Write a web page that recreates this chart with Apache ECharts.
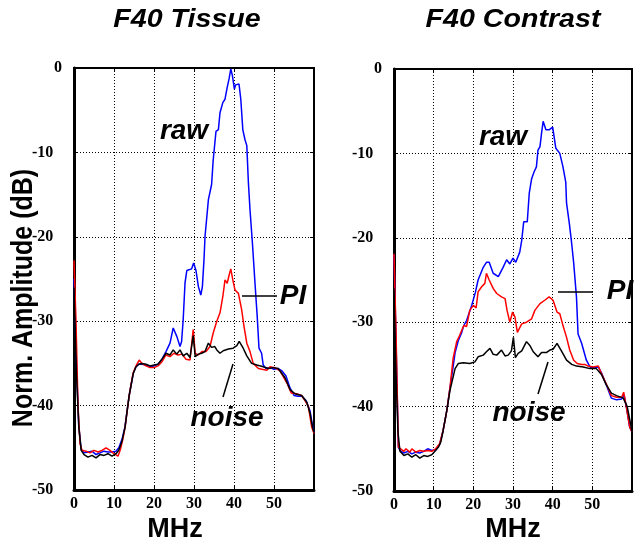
<!DOCTYPE html>
<html>
<head>
<meta charset="utf-8">
<script src="https://cdn.jsdelivr.net/npm/echarts@6/dist/echarts.min.js"></script>
<style>html,body{margin:0;padding:0;background:#fff}#c{width:634px;height:544px}</style>
</head>
<body>
<div id="c"></div>
<script>
// ---- data (MHz, dB) ----
const xTicks = [0, 10, 20, 30, 40, 50];
const yTicks = [0, -10, -20, -30, -40, -50];
const titles = ['F40 Tissue', 'F40 Contrast'];

const tissueRaw = [[0,-25],[0.6,-35],[1.2,-42.5],[1.8,-45.2],[2.5,-45.6],[3.5,-45.5],[4.5,-45.4],[5.5,-45.8],[6.5,-45.6],[7.5,-45.4],[8.5,-45.5],[9.5,-45.5],[10.5,-45.4],[11.2,-45.0],[12,-44.0],[12.75,-42.5],[13.3,-40.5],[13.8,-38.8],[14.3,-37.5],[14.8,-36.2],[15.5,-35.4],[16.2,-35.1],[17,-35.1],[18,-35.2],[19,-35.4],[20,-35.3],[21,-35.1],[22,-34.5],[23,-33.6],[24,-32.6],[24.8,-30.8],[25.3,-30.6],[25.7,-31.8],[26.5,-33.0],[26.9,-32.4],[27.3,-29.8],[27.75,-25.5],[28.2,-24.0],[29.4,-23.8],[29.9,-23.1],[30.5,-24.0],[31.1,-25.9],[31.7,-26.9],[32.1,-25.9],[32.5,-22.7],[32.75,-20.0],[33.6,-15.6],[34.4,-13.8],[34.8,-10.9],[35.5,-7.5],[36.1,-7.3],[36.5,-5.3],[37.2,-4.1],[37.75,-3.7],[38.3,-2.3],[38.8,-1.2],[39.2,-0.1],[39.6,-0.9],[40.1,-2.5],[40.4,-2.0],[40.8,-1.8],[41.25,-1.9],[41.7,-3.7],[42.2,-7.3],[42.75,-8.5],[43.2,-9.2],[43.6,-13.6],[44,-16.8],[44.6,-20.7],[45.25,-25.5],[45.8,-29.4],[46.25,-33.2],[46.9,-33.8],[47.3,-35.2],[48,-35.6],[49,-35.5],[50,-35.7],[51,-35.6],[52,-35.9],[53,-36.5],[54,-37.9],[55,-38.8],[56,-38.9],[57,-38.9],[58,-39.4],[59,-40.6],[59.6,-42.3],[60,-43.2]];

const tissuePI = [[0,-22.8],[0.5,-30],[1,-40],[1.5,-44.5],[2,-45.3],[3,-45.4],[4,-45.6],[5,-45.3],[6,-45.5],[7,-45.3],[8,-45.0],[9,-45.3],[10,-45.7],[11,-46.0],[11.6,-45.2],[12.2,-44],[12.75,-42.6],[13.3,-40.6],[13.8,-38.8],[14.3,-37.4],[14.8,-36.1],[15.5,-35.3],[16.3,-34.6],[17,-35.0],[18,-35.3],[19,-35.5],[20,-35.5],[21,-35.3],[22,-34.8],[23,-34.0],[24,-34.2],[25,-33.8],[26,-34.0],[27,-33.9],[28,-34.5],[29,-34.6],[29.8,-31.0],[30.3,-33.8],[31,-34.0],[32,-33.6],[33,-33.6],[34,-33.0],[34.8,-31.4],[35.7,-30.0],[36.5,-29.0],[37.2,-27.1],[37.75,-25.1],[38.3,-25.5],[38.8,-24.5],[39.2,-23.8],[39.7,-25.1],[40.25,-26.3],[41.1,-26.7],[41.9,-28.6],[42.5,-30.6],[43.2,-32.6],[44,-33.6],[44.8,-35.0],[46.1,-35.6],[47,-35.7],[48.2,-35.8],[49,-35.4],[50.25,-35.5],[51.5,-35.9],[53.2,-37.3],[54.3,-38.5],[55.6,-38.6],[56.9,-38.8],[57.75,-39.4],[58.6,-40.1],[59.4,-42.5],[60,-43.3]];

const tissueNoise = [[0,-26],[0.6,-36],[1.2,-42.5],[1.8,-45.3],[2.5,-45.8],[3.5,-46.1],[4.5,-45.9],[5.5,-46.2],[6.5,-45.8],[7.5,-45.9],[8.5,-45.7],[9.5,-46.0],[10.5,-45.7],[11.2,-45.3],[12,-44.2],[12.75,-42.6],[13.3,-40.6],[13.8,-38.8],[14.3,-37.5],[14.8,-36.2],[15.5,-35.4],[16.2,-35.1],[17,-35.0],[18,-35.1],[19,-35.3],[20,-35.2],[21,-35.1],[22,-34.5],[23,-33.8],[24,-34.0],[24.8,-33.4],[25.7,-33.9],[26.5,-33.4],[27.3,-34.1],[28.2,-33.8],[29,-34.3],[29.8,-31.7],[30.3,-34.2],[31.1,-33.9],[31.9,-33.8],[32.75,-33.6],[33.6,-32.6],[34.4,-33.1],[35.2,-33.0],[35.7,-33.4],[36.5,-33.8],[37.3,-33.5],[38.6,-33.3],[39.8,-33.2],[40.7,-32.9],[41.3,-32.4],[42.3,-33.2],[43.2,-34.1],[44.4,-35.0],[45.7,-35.2],[47.3,-35.4],[48.6,-35.6],[49.8,-35.5],[51,-35.6],[51.5,-35.9],[52.75,-36.7],[54,-38.1],[55.25,-38.6],[56.9,-38.8],[58.2,-39.6],[59,-40.9],[59.6,-42.5],[60,-43.2]];

const contrastRaw = [[0,-22],[0.5,-32],[1.1,-44.8],[1.5,-45.2],[2.5,-45.5],[3.5,-45.3],[4.5,-45.6],[5.5,-45.4],[6.5,-45.5],[7.5,-45.3],[8.5,-45.0],[9.5,-45.2],[10.5,-45.1],[11.5,-44.5],[12.4,-42.8],[13.3,-40.5],[14.1,-37.8],[14.9,-35.3],[15.4,-33.6],[16.2,-32.2],[17,-31.3],[17.6,-30.4],[18.3,-29.8],[19.6,-28.0],[20.5,-26.5],[21.2,-25.0],[22.5,-23.5],[23.3,-22.9],[24,-22.9],[25,-24.2],[26.3,-24.6],[27.5,-23.5],[28.4,-22.6],[29.2,-23.1],[30,-22.4],[30.7,-22.9],[31.7,-21.7],[32.2,-20.3],[32.7,-18.1],[33.6,-18.1],[34.1,-14.7],[34.7,-13.0],[35.3,-12.2],[35.9,-11.6],[36.3,-9.6],[36.8,-9.2],[37.2,-7.6],[37.6,-6.2],[38.3,-7.2],[39.1,-7.2],[40,-6.9],[40.4,-6.8],[40.8,-9.4],[41.8,-10.0],[42.6,-11.6],[43.3,-13.4],[43.5,-15.9],[44.2,-18.3],[44.8,-20.7],[45.3,-23.0],[46,-27.0],[46.4,-31.4],[47.3,-32.5],[48.5,-34.5],[49.4,-35.3],[50.2,-35.4],[51.5,-35.3],[52.3,-36.0],[53.5,-37.4],[54.8,-39.0],[56.1,-39.2],[57.4,-39.1],[58,-38.6],[58.6,-40.1],[59.4,-42.4],[60,-43]];

const contrastPI = [[0,-21.9],[0.5,-31],[1.1,-44.8],[1.5,-45.0],[2.5,-45.3],[3,-45.0],[4,-45.4],[4.5,-45.0],[5.5,-45.4],[6.5,-45.2],[7.5,-45.3],[8.5,-45.2],[9.5,-45.3],[10.5,-45.0],[11.5,-44.4],[12.4,-42.8],[13.3,-40.5],[14.1,-37.8],[14.9,-34.3],[15.8,-32.3],[16.5,-31.6],[17,-31.4],[17.6,-30.4],[18.3,-30.5],[19.1,-28.6],[20,-28.0],[20.7,-28.3],[21.2,-26.4],[22.1,-25.8],[22.9,-25.4],[23.3,-24.2],[24,-25.0],[25,-26.0],[25.9,-26.6],[27.1,-27.0],[28,-27.2],[28.5,-28.6],[29.2,-30.0],[29.9,-28.8],[30.5,-29.4],[31.1,-31.2],[32.2,-30.2],[33.4,-30.0],[34.7,-29.6],[35.5,-28.6],[36.8,-27.8],[38,-27.4],[39.1,-27.0],[40.1,-27.4],[41.1,-28.8],[41.8,-29.0],[42.6,-30.4],[43.5,-31.8],[44.3,-33.3],[45.3,-34.5],[46.2,-34.9],[47.3,-35.0],[48.1,-35.0],[48.9,-35.2],[50.2,-35.3],[51.5,-35.2],[52.3,-36.1],[53.5,-37.3],[54.8,-38.7],[56.1,-38.9],[57.4,-38.9],[57.9,-38.3],[58.6,-40.1],[59.4,-42.4],[60,-43]];

const contrastNoise = [[0,-26],[0.5,-36],[1,-43],[1.5,-45.3],[2.5,-45.8],[3.5,-45.6],[4.5,-46.0],[5.5,-45.7],[6.5,-46.1],[7.5,-45.8],[8.5,-45.9],[9.5,-45.7],[10.5,-45.2],[11.2,-44.8],[11.8,-44.2],[12.4,-42.8],[13.3,-40.5],[14.1,-38.1],[14.9,-36.5],[15.4,-35.5],[16.2,-34.9],[17.5,-34.8],[19.1,-34.9],[20.4,-34.7],[21.2,-34.1],[22.5,-33.9],[23.3,-33.5],[24.2,-33.1],[25,-33.8],[25.9,-33.9],[27.1,-33.3],[28,-34.0],[28.8,-33.9],[29.6,-33.4],[30.1,-31.8],[30.6,-34.2],[31.3,-33.7],[32.2,-33.4],[33.4,-32.3],[34.3,-32.8],[35.1,-33.5],[36.3,-34.1],[37.2,-33.6],[38.4,-33.6],[39.3,-33.3],[40.1,-33.2],[41.1,-32.5],[42.2,-33.4],[43.5,-34.5],[44.8,-35.0],[46,-35.2],[47.7,-35.3],[49.4,-35.5],[51,-35.5],[52.3,-36.2],[53.5,-37.4],[54.8,-38.4],[56.1,-38.7],[57.8,-39.0],[58.8,-40.0],[59.7,-42.2],[60,-43]];

// ---- chart ----
const SERIF = '"Liberation Serif", "Times New Roman", serif';
const SANS = '"Liberation Sans", Arial, sans-serif';
const grids = [
  {left: 74, top: 68, width: 240, height: 422},
  {left: 394, top: 69, width: 238, height: 422}
];
const chart = echarts.init(document.getElementById('c'), null, {renderer: 'canvas'});

const xAxes = [], yAxes = [];
[0, 1].forEach(i => {
  xAxes.push({
    gridIndex: i, type: 'value', min: xTicks[0], max: 60, interval: 10, position: 'bottom',
    axisLine: {show: true, onZero: false, lineStyle: {color: '#000', width: 3}},
    axisTick: {show: true, inside: true, length: 4, lineStyle: {color: '#000', width: 1}},
    axisLabel: {show: true, margin: 6, color: '#000', fontFamily: SERIF, fontWeight: 'bold', fontSize: 16,
      showMaxLabel: false, formatter: v => xTicks.indexOf(v) >= 0 ? String(v) : ''},
    splitLine: {show: true, lineStyle: {color: '#000', width: 1, type: [1, 2]}}
  });
  xAxes.push({
    gridIndex: i, type: 'value', min: 0, max: 60, interval: 10, position: 'top',
    axisLine: {show: true, onZero: false, lineStyle: {color: '#000', width: 2}},
    axisTick: {show: true, inside: true, length: 4, lineStyle: {color: '#000'}},
    axisLabel: {show: false}, splitLine: {show: false}
  });
  yAxes.push({
    gridIndex: i, type: 'value', min: yTicks[5], max: yTicks[0], interval: 10, position: 'left',
    axisLine: {show: true, onZero: false, lineStyle: {color: '#000', width: 3}},
    axisTick: {show: true, inside: true, length: 4, lineStyle: {color: '#000'}},
    axisLabel: {show: true, margin: 12, color: '#000', fontFamily: SERIF, fontWeight: 'bold', fontSize: 16,
      formatter: v => v === 0 ? '0' : '{a|' + v + '}',
      rich: {a: {width: 30, align: 'left', fontFamily: SERIF, fontWeight: 'bold', fontSize: 16, color: '#000'}}},
    splitLine: {show: true, lineStyle: {color: '#000', width: 1, type: [1, 2]}}
  });
  yAxes.push({
    gridIndex: i, type: 'value', min: -50, max: 0, interval: 10, position: 'right',
    axisLine: {show: true, onZero: false, lineStyle: {color: '#000', width: 2}},
    axisTick: {show: true, inside: true, length: 4, lineStyle: {color: '#000'}},
    axisLabel: {show: false}, splitLine: {show: false}
  });
});

function line(data, color, gi) {
  return {type: 'line', xAxisIndex: gi * 2, yAxisIndex: gi * 2, data: data, showSymbol: false,
    symbol: 'none', smooth: false, lineStyle: {color: color, width: 1.5}, silent: true, z: 3};
}

const BI = {fontFamily: SANS, fontWeight: 'bold', fontStyle: 'italic', fill: '#000'};
function txt(text, x, y, size, opts) {
  return Object.assign({type: 'text', x: x, y: y, z: 100,
    style: Object.assign({text: text, fontSize: size, align: 'center', verticalAlign: 'middle'}, BI)}, opts || {});
}
function seg(x1, y1, x2, y2) {
  return {type: 'line', z: 100, shape: {x1, y1, x2, y2}, style: {stroke: '#000', lineWidth: 1.5}};
}

const graphics = [
  txt(titles[0], 187, 20, 26, {scaleX: 1.1}),
  txt(titles[1], 513, 20, 26, {scaleX: 1.1}),
  txt('raw', 184, 131, 28),
  txt('raw', 503, 137, 28),
  txt('PI', 293, 296, 28),
  txt('PI', 620, 291, 28),
  txt('noise', 227, 418, 28),
  txt('noise', 529, 413, 28),
  seg(242, 296, 277, 296),
  seg(558, 292, 593, 292),
  seg(233, 364, 223, 397),
  seg(548, 362, 538, 394),
  {type: 'text', x: 175, y: 530, z: 100, style: {text: 'MHz', fontSize: 27, fontFamily: SANS, fontWeight: 'bold', fill: '#000', align: 'center', verticalAlign: 'middle'}},
  {type: 'text', x: 513, y: 530, z: 100, style: {text: 'MHz', fontSize: 27, fontFamily: SANS, fontWeight: 'bold', fill: '#000', align: 'center', verticalAlign: 'middle'}},
  {type: 'text', x: 24, y: 298, z: 100, rotation: Math.PI / 2, scaleY: 1.15,
   style: {text: 'Norm. Amplitude (dB)', fontSize: 25, fontFamily: SANS, fontWeight: 'bold', fill: '#000', align: 'center', verticalAlign: 'middle'}}
];

chart.setOption({
  animation: false,
  backgroundColor: '#fff',
  grid: grids.map(g => Object.assign({show: true, borderColor: '#000', borderWidth: 2, backgroundColor: 'transparent', containLabel: false}, g)),
  xAxis: xAxes,
  yAxis: yAxes,
  series: [
    line(tissueRaw, '#0000ff', 0), line(tissuePI, '#ff0000', 0), line(tissueNoise, '#000000', 0),
    line(contrastRaw, '#0000ff', 1), line(contrastPI, '#ff0000', 1), line(contrastNoise, '#000000', 1)
  ],
  graphic: graphics
});
</script>
</body>
</html>
